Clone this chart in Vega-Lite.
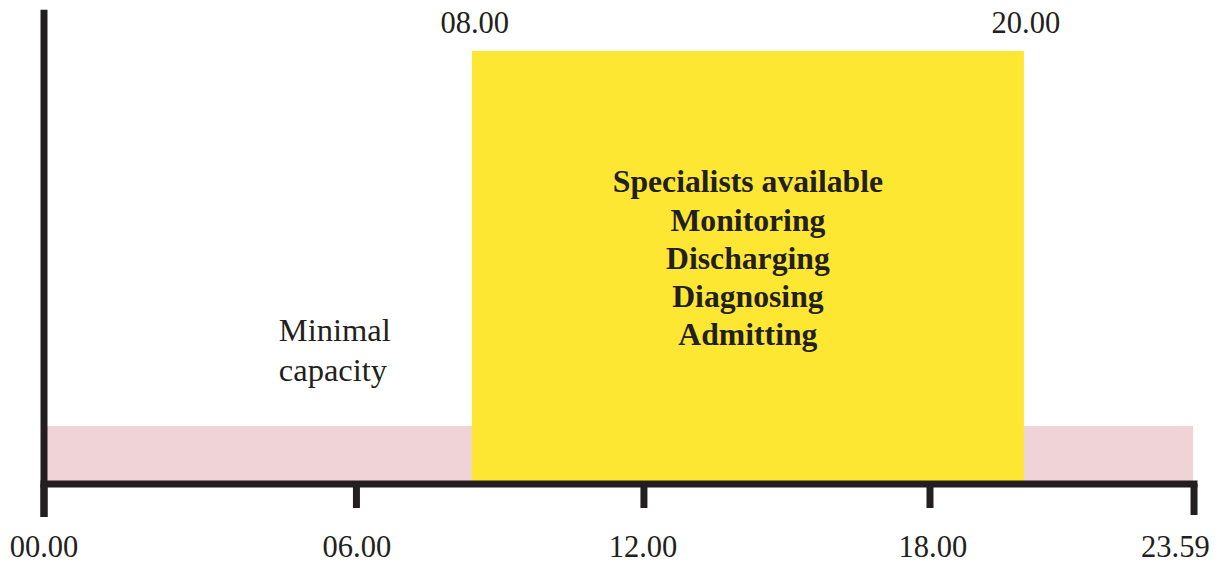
{
  "$schema": "https://vega.github.io/schema/vega-lite/v6.json",
  "width": 1228,
  "height": 565,
  "autosize": {"type": "fit", "contains": "padding"},
  "padding": 0,
  "background": "white",
  "config": {"view": {"stroke": null}},
  "datasets": {
    "bands": [
      {"period": "Minimal capacity", "start": 0, "end": 23.98, "low": 0, "high": 1.34},
      {"period": "Specialists", "start": 8.93, "end": 20.45, "low": 0, "high": 10.0}
    ],
    "axes": [
      {"axis": "time", "x": 0, "x2": 24, "y": 0, "y2": 0},
      {"axis": "level", "x": 0, "x2": 0, "y": -0.68, "y2": 10.87}
    ],
    "ticks": [
      {"t": 0, "top": 0, "len": -0.762, "label": "00.00", "lt": 0, "lv": -1.69},
      {"t": 6.52, "top": 0, "len": -0.554, "label": "06.00", "lt": 6.53, "lv": -1.69},
      {"t": 12.52, "top": 0, "len": -0.554, "label": "12.00", "lt": 12.5, "lv": -1.69},
      {"t": 18.49, "top": 0, "len": -0.554, "label": "18.00", "lt": 18.55, "lv": -1.69},
      {"t": 24.0, "top": 0, "len": -0.716, "label": "23.59", "lt": 23.61, "lv": -1.69}
    ],
    "shift": [
      {"h": 8.99, "v": 10.42, "label": "08.00"},
      {"h": 20.49, "v": 10.42, "label": "20.00"}
    ],
    "notes": [
      {"h": 4.9, "v": 3.30, "text": "Minimal"},
      {"h": 4.9, "v": 2.38, "text": "capacity"}
    ],
    "tasks": [
      {"h": 14.69, "v": 6.74, "text": "Specialists available"},
      {"h": 14.69, "v": 5.85, "text": "Monitoring"},
      {"h": 14.69, "v": 4.97, "text": "Discharging"},
      {"h": 14.69, "v": 4.09, "text": "Diagnosing"},
      {"h": 14.69, "v": 3.20, "text": "Admitting"}
    ]
  },
  "layer": [
    {
      "data": {"name": "bands"},
      "mark": {"type": "rect"},
      "encoding": {
        "x": {"field": "start", "type": "quantitative", "scale": {"domain": [-0.9183, 24.709], "nice": false, "zero": false}, "axis": null},
        "x2": {"field": "end"},
        "y": {"field": "low", "type": "quantitative", "scale": {"domain": [-1.8707, 11.1778], "nice": false, "zero": false}, "axis": null},
        "y2": {"field": "high"},
        "color": {"field": "period", "type": "nominal", "scale": {"domain": ["Minimal capacity", "Specialists"], "range": ["#F0D3D6", "#FDE733"]}, "legend": null}
      }
    },
    {
      "data": {"name": "axes"},
      "mark": {"type": "rule", "color": "#231F20", "strokeWidth": 7, "strokeCap": "square"},
      "encoding": {
        "x": {"field": "x", "type": "quantitative"},
        "x2": {"field": "x2"},
        "y": {"field": "y", "type": "quantitative"},
        "y2": {"field": "y2"}
      }
    },
    {
      "data": {"name": "ticks"},
      "mark": {"type": "rule", "color": "#231F20", "strokeWidth": 7, "strokeCap": "butt"},
      "encoding": {
        "x": {"field": "t", "type": "quantitative"},
        "y": {"field": "top", "type": "quantitative"},
        "y2": {"field": "len"}
      }
    },
    {
      "data": {"name": "ticks"},
      "mark": {"type": "text", "font": "Liberation Serif", "fontSize": 30.5, "color": "#231F20", "align": "center", "baseline": "alphabetic"},
      "encoding": {
        "x": {"field": "lt", "type": "quantitative"},
        "y": {"field": "lv", "type": "quantitative"},
        "text": {"field": "label"}
      }
    },
    {
      "data": {"name": "shift"},
      "mark": {"type": "text", "font": "Liberation Serif", "fontSize": 30.5, "color": "#231F20", "align": "center", "baseline": "alphabetic"},
      "encoding": {
        "x": {"field": "h", "type": "quantitative"},
        "y": {"field": "v", "type": "quantitative"},
        "text": {"field": "label"}
      }
    },
    {
      "data": {"name": "notes"},
      "mark": {"type": "text", "font": "Liberation Serif", "fontSize": 32.5, "color": "#231F20", "align": "left", "baseline": "alphabetic"},
      "encoding": {
        "x": {"field": "h", "type": "quantitative"},
        "y": {"field": "v", "type": "quantitative"},
        "text": {"field": "text"}
      }
    },
    {
      "data": {"name": "tasks"},
      "mark": {"type": "text", "font": "Liberation Serif", "fontSize": 31.7, "fontWeight": "bold", "color": "#231F20", "align": "center", "baseline": "alphabetic"},
      "encoding": {
        "x": {"field": "h", "type": "quantitative"},
        "y": {"field": "v", "type": "quantitative"},
        "text": {"field": "text"}
      }
    }
  ]
}
